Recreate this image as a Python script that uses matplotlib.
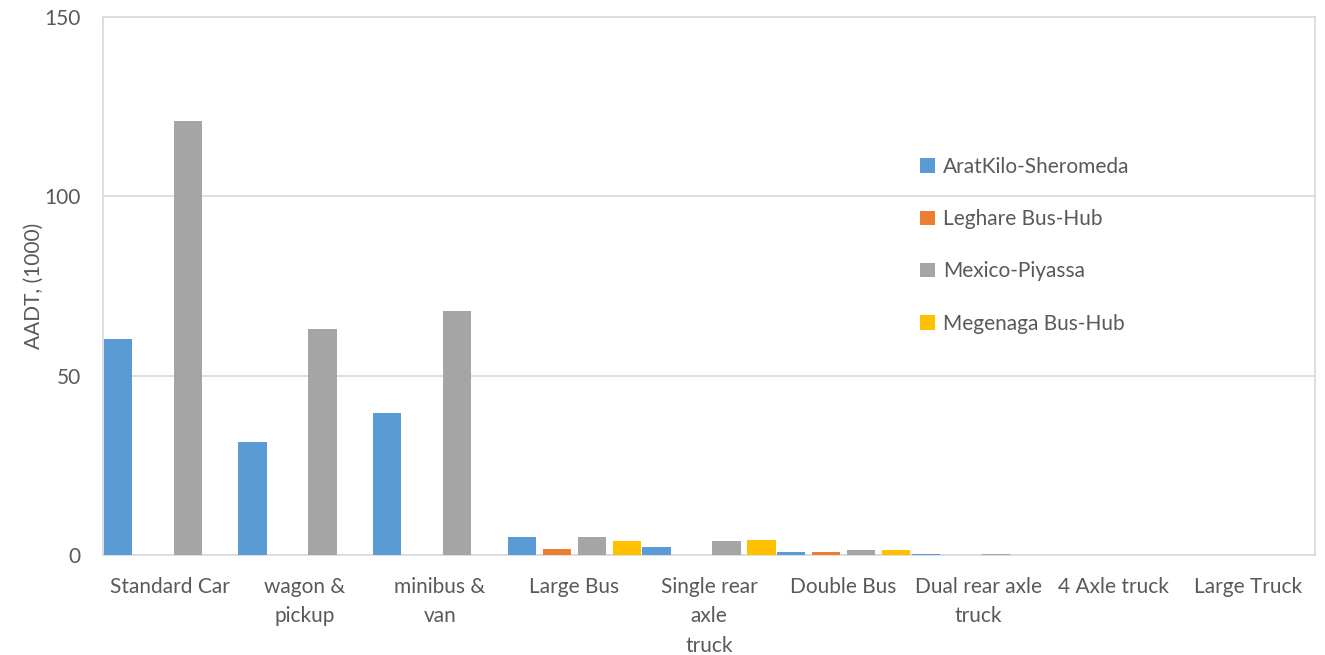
import numpy as np
import matplotlib
matplotlib.use("Agg")
from matplotlib import pyplot as plt

plt.rcParams['font.family'] = ['Lato', 'DejaVu Sans']

categories = ["Standard Car", "wagon &\npickup", "minibus &\nvan", "Large Bus",
              "Single rear\naxle\ntruck", "Double Bus", "Dual rear axle\ntruck",
              "4 Axle truck", "Large Truck"]

aratkilo = [60.2, 31.5, 39.6, 5.1, 2.3, 0.7, 0.2, 0.05, 0.05]
leghare = [0.0, 0.0, 0.0, 1.6, 0.0, 0.7, 0.1, 0.0, 0.0]
mexico = [121.0, 63.0, 68.0, 4.9, 3.9, 1.3, 0.3, 0.05, 0.05]
megenaga = [0.0, 0.0, 0.0, 3.8, 4.2, 1.3, 0.1, 0.0, 0.0]

series = [
    ("AratKilo-Sheromeda", aratkilo, "#5B9BD5"),
    ("Leghare Bus-Hub", leghare, "#ED7D31"),
    ("Mexico-Piyassa", mexico, "#A5A5A5"),
    ("Megenaga Bus-Hub", megenaga, "#FFC000"),
]

fig = plt.figure(figsize=(13.25, 6.55), dpi=100)
ax = fig.add_axes([0.0777, 0.1527, 0.9148, 0.8213])

x = np.arange(len(categories))
slot = 0.26
width = 0.21
for i, (name, vals, col) in enumerate(series):
    ax.bar(x + (i - 1.5) * slot, vals, width=width, color=col, label=name, zorder=3)

ax.set_xlim(-0.5, len(categories) - 0.5)
ax.set_ylim(0, 150)
ax.set_yticks([0, 50, 100, 150])
ax.set_xticks(x)
ax.set_xticklabels(categories, fontsize=15, color="#595959", linespacing=1.58, va="top")
ax.tick_params(axis="y", labelsize=15, labelcolor="#595959", length=0, pad=16)
ax.tick_params(axis="x", length=0, pad=16)
ax.grid(axis="y", color="#D9D9D9", linewidth=1.2, zorder=0)
for s in ax.spines.values():
    s.set_color("#D9D9D9")
    s.set_linewidth(1.2)

ax.set_ylabel("AADT, (1000)", fontsize=15, color="#595959", labelpad=0)

leg = ax.legend(loc="upper left", bbox_to_anchor=(0.659, 0.775), frameon=False,
                fontsize=15, handlelength=0.7, handleheight=0.7,
                handletextpad=0.4, labelspacing=1.55)
for t in leg.get_texts():
    t.set_color("#595959")

fig.savefig("out.png", dpi=100, facecolor="white")
